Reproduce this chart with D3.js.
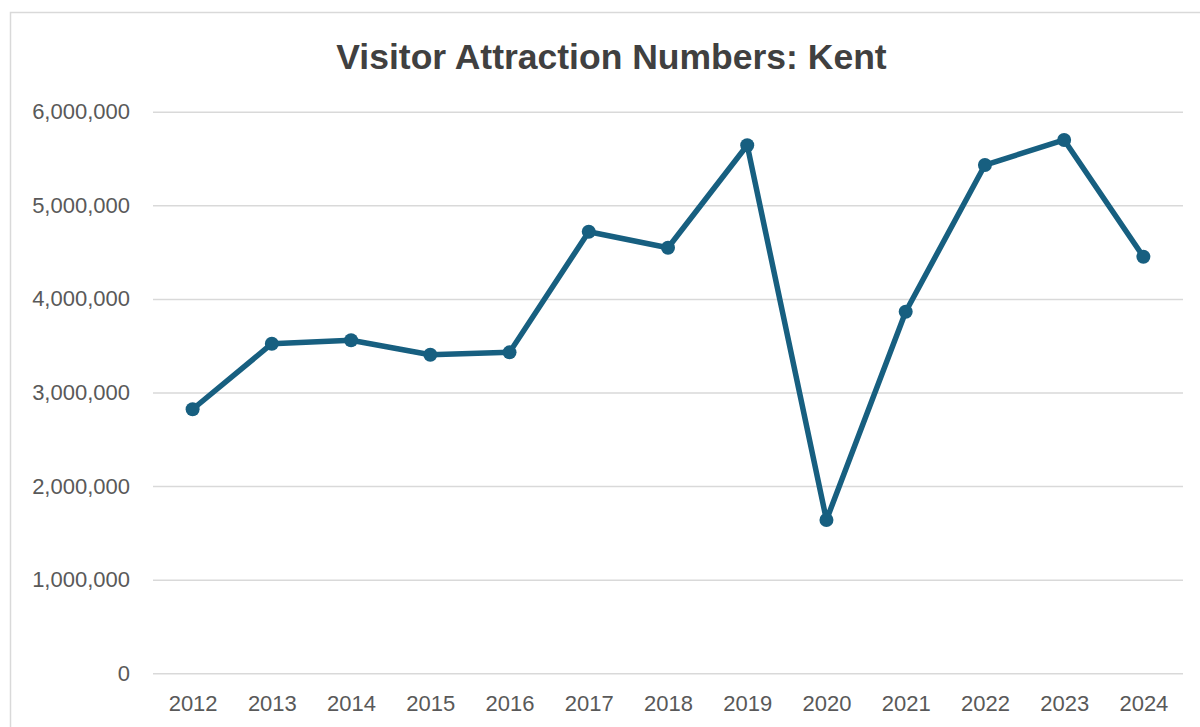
<!DOCTYPE html>
<html>
<head>
<meta charset="utf-8">
<script src="https://cdn.jsdelivr.net/npm/d3@7"></script>
<style>
  html, body { margin: 0; padding: 0; background: #ffffff; }
  svg { display: block; }
</style>
</head>
<body>
<svg id="chart" width="1200" height="727"></svg>
<script>
// Annual visitor numbers at Kent attractions
const years = ["2012", "2013", "2014", "2015", "2016", "2017", "2018",
               "2019", "2020", "2021", "2022", "2023", "2024"];
const visitors = [2821000, 3521000, 3558000, 3404000, 3429000, 4718000, 4547000,
                  5641000, 1638000, 3863000, 5430000, 5698000, 4451000];
const yTicks = [0, 1000000, 2000000, 3000000, 4000000, 5000000, 6000000];
const title = "Visitor Attraction Numbers: Kent";

const svg = d3.select("#chart");
const W = 1200, H = 727;
const plot = { left: 153, right: 1183, top: 111.7, bottom: 673.3 };
const lineColor = "#175f80";
const textColor = "#595959";
const font = "'Liberation Sans', Arial, sans-serif";

// chart frame
svg.append("rect")
  .attr("x", 10.5).attr("y", 12.5)
  .attr("width", W + 20).attr("height", H + 20)
  .attr("fill", "#ffffff")
  .attr("stroke", "#d9d9d9").attr("stroke-width", 1.5);

const x = d3.scalePoint()
  .domain(years)
  .range([plot.left, plot.right])
  .padding(0.5);

const y = d3.scaleLinear()
  .domain([0, 6000000])
  .range([plot.bottom, plot.top]);

// horizontal gridlines + y labels
const yAxis = svg.append("g")
  .attr("transform", `translate(${plot.left},0)`)
  .call(d3.axisLeft(y)
    .tickValues(yTicks)
    .tickSize(-(plot.right - plot.left))
    .tickPadding(23)
    .tickFormat(d3.format(",")));
yAxis.select(".domain").remove();
yAxis.selectAll(".tick line")
  .attr("stroke", "#d9d9d9").attr("stroke-width", 1.5);
yAxis.selectAll(".tick text")
  .attr("fill", textColor)
  .style("font-family", font)
  .style("font-size", "22px");

// category labels
const xAxis = svg.append("g")
  .attr("transform", `translate(0,${plot.bottom})`)
  .call(d3.axisBottom(x).tickSize(0).tickPadding(22));
xAxis.select(".domain").remove();
xAxis.selectAll(".tick text")
  .attr("fill", textColor)
  .style("font-family", font)
  .style("font-size", "22px");

// series line
const line = d3.line()
  .x((d, i) => x(years[i]))
  .y(d => y(d));

svg.append("path")
  .datum(visitors)
  .attr("d", line)
  .attr("fill", "none")
  .attr("stroke", lineColor)
  .attr("stroke-width", 5.5)
  .attr("stroke-linejoin", "round")
  .attr("stroke-linecap", "round");

svg.append("g")
  .selectAll("circle")
  .data(visitors)
  .join("circle")
  .attr("cx", (d, i) => x(years[i]))
  .attr("cy", d => y(d))
  .attr("r", 7)
  .attr("fill", lineColor);

// title
svg.append("text")
  .attr("x", 611.5).attr("y", 68.5)
  .attr("text-anchor", "middle")
  .attr("fill", "#404040")
  .style("font-family", font)
  .style("font-weight", "bold")
  .style("font-size", "35.5px")
  .text(title);
</script>
</body>
</html>
